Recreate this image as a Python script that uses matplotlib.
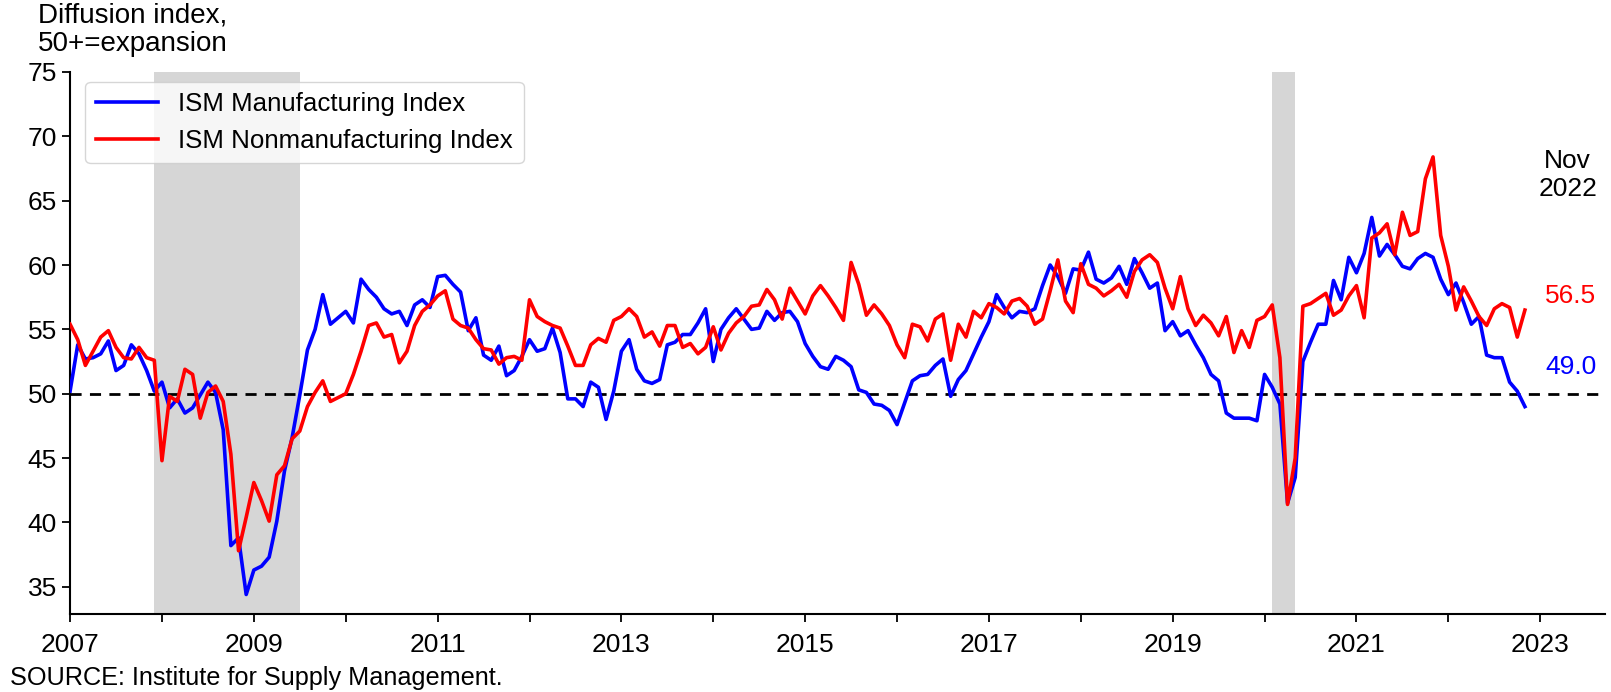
import numpy as np
import matplotlib
matplotlib.use("Agg")
import matplotlib.pyplot as plt
from matplotlib.ticker import MultipleLocator, FixedLocator

plt.rcParams['font.family'] = ['Liberation Sans', 'DejaVu Sans']

# Monthly readings, Jan 2007 - Nov 2022
manufacturing = [
    50.2, 53.8, 52.7, 52.8, 53.1, 54.1, 51.8, 52.2, 53.8, 53.1, 51.8, 50.2,  # 2007
    50.9, 48.9, 49.6, 48.5, 48.9, 49.9, 50.9, 50.1, 47.2, 38.2, 38.8, 34.4,  # 2008
    36.3, 36.6, 37.3, 40.1, 44.0, 46.6, 49.9, 53.4, 55.0, 57.7, 55.4, 55.9,  # 2009
    56.4, 55.5, 58.9, 58.1, 57.5, 56.6, 56.2, 56.4, 55.3, 56.9, 57.3, 56.7,  # 2010
    59.1, 59.2, 58.5, 57.9, 54.9, 55.9, 53.0, 52.6, 53.7, 51.4, 51.8, 52.9,  # 2011
    54.2, 53.3, 53.5, 55.1, 53.2, 49.6, 49.6, 49.0, 50.9, 50.5, 48.0, 50.2,  # 2012
    53.3, 54.2, 51.9, 51.0, 50.8, 51.1, 53.8, 54.0, 54.6, 54.6, 55.5, 56.6,  # 2013
    52.5, 55.0, 55.9, 56.6, 55.8, 55.0, 55.1, 56.4, 55.7, 56.3, 56.4, 55.6,  # 2014
    53.9, 52.9, 52.1, 51.9, 52.9, 52.6, 52.1, 50.3, 50.1, 49.2, 49.1, 48.7,  # 2015
    47.6, 49.3, 51.0, 51.4, 51.5, 52.2, 52.7, 49.8, 51.1, 51.8, 53.1, 54.4,  # 2016
    55.6, 57.7, 56.7, 55.9, 56.4, 56.3, 56.6, 58.4, 60.0, 59.1, 57.8, 59.7,  # 2017
    59.6, 61.0, 58.9, 58.6, 59.0, 59.9, 58.5, 60.5, 59.4, 58.2, 58.6, 54.9,  # 2018
    55.6, 54.5, 54.9, 53.8, 52.8, 51.5, 51.0, 48.5, 48.1, 48.1, 48.1, 47.9,  # 2019
    51.5, 50.5, 49.2, 41.5, 43.5, 52.5, 54.0, 55.4, 55.4, 58.8, 57.3, 60.6,  # 2020
    59.4, 60.9, 63.7, 60.7, 61.6, 60.8, 59.9, 59.7, 60.5, 60.9, 60.6, 58.9,  # 2021
    57.7, 58.6, 57.1, 55.4, 56.0, 53.0, 52.8, 52.8, 50.9, 50.2, 49.0,        # 2022
]

nonmanufacturing = [
    55.4, 54.2, 52.2, 53.3, 54.4, 54.9, 53.6, 52.8, 52.7, 53.6, 52.8, 52.6,  # 2007
    44.8, 49.8, 49.4, 51.9, 51.5, 48.1, 50.1, 50.6, 49.4, 45.3, 37.8, 40.4,  # 2008
    43.1, 41.7, 40.1, 43.7, 44.4, 46.5, 47.1, 49.0, 50.1, 51.0, 49.4, 49.7,  # 2009
    50.0, 51.5, 53.3, 55.3, 55.5, 54.4, 54.6, 52.4, 53.3, 55.3, 56.4, 56.9,  # 2010
    57.6, 58.0, 55.8, 55.3, 55.1, 54.2, 53.5, 53.4, 52.3, 52.8, 52.9, 52.6,  # 2011
    57.3, 56.0, 55.6, 55.3, 55.1, 53.7, 52.2, 52.2, 53.8, 54.3, 54.0, 55.7,  # 2012
    56.0, 56.6, 56.0, 54.4, 54.8, 53.7, 55.3, 55.3, 53.6, 53.9, 53.1, 53.6,  # 2013
    55.2, 53.4, 54.7, 55.5, 56.0, 56.8, 56.9, 58.1, 57.3, 55.8, 58.2, 57.2,  # 2014
    56.2, 57.6, 58.4, 57.6, 56.7, 55.7, 60.2, 58.5, 56.1, 56.9, 56.2, 55.3,  # 2015
    53.8, 52.8, 55.4, 55.2, 54.1, 55.8, 56.2, 52.6, 55.4, 54.4, 56.4, 55.9,  # 2016
    57.0, 56.7, 56.2, 57.2, 57.4, 56.8, 55.4, 55.8, 58.0, 60.4, 57.2, 56.3,  # 2017
    60.1, 58.5, 58.2, 57.6, 58.0, 58.5, 57.5, 59.5, 60.4, 60.8, 60.2, 58.2,  # 2018
    56.6, 59.1, 56.6, 55.3, 56.1, 55.5, 54.5, 56.0, 53.2, 54.9, 53.6, 55.7,  # 2019
    56.0, 56.9, 52.8, 41.4, 45.0, 56.8, 57.0, 57.4, 57.8, 56.1, 56.5, 57.6,  # 2020
    58.4, 55.9, 62.1, 62.5, 63.2, 60.8, 64.1, 62.3, 62.6, 66.7, 68.4, 62.3,  # 2021
    59.9, 56.5, 58.3, 57.2, 56.0, 55.3, 56.6, 57.0, 56.7, 54.4, 56.5,        # 2022
]

# recession periods (decimal years)
recessions = [(2007 + 11 / 12, 2009.5), (2020 + 1 / 12, 2020 + 4 / 12)]

x = 2007 + np.arange(len(manufacturing)) / 12

fig = plt.figure(figsize=(16.11, 6.92), dpi=100)
ax = fig.add_axes([0.0435, 0.113, 0.9525, 0.783])

for start, end in recessions:
    ax.axvspan(start, end, color='#d6d6d6', lw=0, zorder=0)

ax.axhline(50, color='black', lw=2, ls=(0, (4, 3)), zorder=1)
ax.plot(x, manufacturing, color='#0000ff', lw=2.6, label='ISM Manufacturing Index', zorder=3)
ax.plot(x, nonmanufacturing, color='#ff0000', lw=2.6, label='ISM Nonmanufacturing Index', zorder=3)

ax.set_xlim(2007, 2023.7)
ax.set_ylim(32.9, 75)
ax.xaxis.set_major_locator(FixedLocator(range(2007, 2024, 2)))
ax.xaxis.set_minor_locator(MultipleLocator(1))
ax.yaxis.set_major_locator(MultipleLocator(5))
ax.tick_params(axis='both', which='both', direction='out', length=6, width=1.3, labelsize=19)
ax.tick_params(axis='x', pad=8)
ax.spines['top'].set_visible(False)
ax.spines['right'].set_visible(False)
ax.spines['left'].set_linewidth(1.5)
ax.spines['bottom'].set_linewidth(1.5)

ax.legend(loc='upper left', bbox_to_anchor=(0.01, 0.982), borderaxespad=0,
          fontsize=18.6, handlelength=2.4)

ax.text(2023.3, 67.0, 'Nov\n2022', ha='center', va='center', fontsize=19)
ax.text(2023.33, 57.6, f'{nonmanufacturing[-1]:.1f}', color='#ff0000', ha='center', va='center', fontsize=19)
ax.text(2023.33, 52.1, f'{manufacturing[-1]:.1f}', color='#0000ff', ha='center', va='center', fontsize=19)

fig.text(0.0825, 0.996, 'Diffusion index,\n50+=expansion', ha='center', va='top',
         fontsize=20, linespacing=1.1)
fig.text(0.006, 0.02, 'SOURCE: Institute for Supply Management.', ha='left', va='center', fontsize=18.2)

fig.savefig('out.png', dpi=100)
